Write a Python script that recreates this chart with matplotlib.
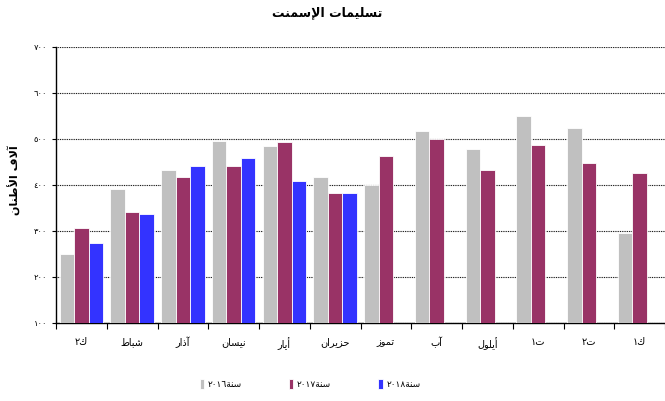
import matplotlib
matplotlib.use('Agg')
import matplotlib.pyplot as plt
import numpy as np
from matplotlib.ticker import FixedLocator, FuncFormatter

months = ['ك٢', 'شباط', 'آذار', 'نيسان', 'أيار', 'حزيران',
          'تموز', 'آب', 'أيلول', 'ت١', 'ت٢', 'ك١']
y2016 = [250, 392, 433, 496, 485, 417, 399, 517, 478, 549, 525, 295]
y2017 = [307, 342, 417, 442, 493, 383, 464, 499, 433, 488, 447, 426]
y2018 = [275, 336, 442, 458, 409, 383]
series_names = ['سنة٢٠١٦', 'سنة٢٠١٧', 'سنة٢٠١٨']
title = 'تسليمات الإسمنت'
ylabel = 'آلاف الأطنان'

# minimal arabic shaping (matplotlib has no shaping / bidi)
AR = {
    'آ': ('\uFE81', '\uFE82'), 'أ': ('\uFE83', '\uFE84'),
    'إ': ('\uFE87', '\uFE88'), 'ا': ('\uFE8D', '\uFE8E'),
    'ب': ('\uFE8F', '\uFE90', '\uFE91', '\uFE92'),
    'ة': ('\uFE93', '\uFE94'),
    'ت': ('\uFE95', '\uFE96', '\uFE97', '\uFE98'),
    'ح': ('\uFEA1', '\uFEA2', '\uFEA3', '\uFEA4'),
    'ذ': ('\uFEAB', '\uFEAC'), 'ر': ('\uFEAD', '\uFEAE'),
    'ز': ('\uFEAF', '\uFEB0'),
    'س': ('\uFEB1', '\uFEB2', '\uFEB3', '\uFEB4'),
    'ش': ('\uFEB5', '\uFEB6', '\uFEB7', '\uFEB8'),
    'ط': ('\uFEC1', '\uFEC2', '\uFEC3', '\uFEC4'),
    'ف': ('\uFED1', '\uFED2', '\uFED3', '\uFED4'),
    'ك': ('\uFED9', '\uFEDA', '\uFEDB', '\uFEDC'),
    'ل': ('\uFEDD', '\uFEDE', '\uFEDF', '\uFEE0'),
    'م': ('\uFEE1', '\uFEE2', '\uFEE3', '\uFEE4'),
    'ن': ('\uFEE5', '\uFEE6', '\uFEE7', '\uFEE8'),
    'و': ('\uFEED', '\uFEEE'),
    'ي': ('\uFEF1', '\uFEF2', '\uFEF3', '\uFEF4'),
}
LAM_ALEF = {'ا': ('\uFEFB', '\uFEFC'), 'أ': ('\uFEF7', '\uFEF8'),
            'إ': ('\uFEF9', '\uFEFA'), 'آ': ('\uFEF5', '\uFEF6')}


def ar(s):
    chars = []
    i = 0
    while i < len(s):
        if s[i] == 'ل' and i + 1 < len(s) and s[i + 1] in LAM_ALEF:
            chars.append(('LA', s[i + 1]))
            i += 2
        else:
            chars.append(s[i])
            i += 1
    out = []
    for i, c in enumerate(chars):
        prev = chars[i - 1] if i > 0 else None
        nxt = chars[i + 1] if i + 1 < len(chars) else None
        pj = prev is not None and not isinstance(prev, tuple) and prev in AR and len(AR[prev]) == 4
        if isinstance(c, tuple):
            out.append(LAM_ALEF[c[1]][1 if pj else 0])
            continue
        if c not in AR:
            out.append(c)
            continue
        f = AR[c]
        nj = len(f) == 4 and nxt is not None and (isinstance(nxt, tuple) or nxt in AR)
        if pj and nj:
            out.append(f[3])
        elif pj:
            out.append(f[1])
        elif nj:
            out.append(f[2])
        else:
            out.append(f[0])
    tokens = []
    for ch in out:
        if ch.isdigit() and tokens and tokens[-1][0].isdigit():
            tokens[-1] += ch
        else:
            tokens.append(ch)
    return ''.join(reversed(tokens))


def ar_num(v, pos=None):
    return str(int(v)).translate(str.maketrans('0123456789', '٠١٢٣٤٥٦٧٨٩'))


plt.rcParams['font.family'] = ['DejaVu Sans']

fig = plt.figure(figsize=(6.65, 4.01), dpi=100)
ax = fig.add_axes([56 / 665, 1 - 323 / 401, 609 / 665, 276 / 401])

colors = ['#C0C0C0', '#993366', '#3333FF']
w = 0.285
x = np.arange(len(months))
for k, (vals, c) in enumerate(zip([y2016, y2017, y2018], colors)):
    xs = x[:len(vals)] + (k - 1) * w
    ax.bar(xs, vals, width=w, color=c, edgecolor='white', linewidth=0.6,
           label=ar(series_names[k]), zorder=3)

ax.set_xlim(-0.5, len(months) - 0.5)
ax.set_ylim(100, 700)
ax.set_yticks(range(100, 701, 100))
ax.yaxis.set_major_formatter(FuncFormatter(ar_num))
ax.tick_params(axis='y', labelsize=6, length=3, width=0.8)

ax.xaxis.set_major_locator(FixedLocator(np.arange(-0.5, len(months), 1.0)))
ax.xaxis.set_major_formatter(FuncFormatter(lambda v, p: ''))
ax.xaxis.set_minor_locator(FixedLocator(x))
ax.set_xticklabels([ar(m) for m in months], minor=True)
ax.tick_params(axis='x', which='major', length=4, width=0.8)
ax.tick_params(axis='x', which='minor', length=0, labelsize=7, pad=10)

ax.yaxis.grid(True, linestyle=(0, (0.8, 0.8)), color='black', linewidth=0.8, zorder=0)
ax.spines['top'].set_visible(False)
ax.spines['right'].set_visible(False)
ax.spines['left'].set_linewidth(1.0)
ax.spines['bottom'].set_linewidth(1.0)

fig.text(327 / 665, 1 - 13 / 401, ar(title), ha='center', va='center',
         fontsize=9, fontweight='bold')
fig.text(14 / 665, 1 - 180 / 401, ar(ylabel), ha='center', va='center',
         rotation=90, fontsize=8, fontweight='bold')

fig.legend(loc='center', bbox_to_anchor=(310 / 665, 1 - 384 / 401), ncol=3,
           frameon=False, fontsize=6.5, handlelength=0.5, handleheight=1.4,
           columnspacing=5.2, handletextpad=0.4)

fig.savefig('out.png', dpi=100)
